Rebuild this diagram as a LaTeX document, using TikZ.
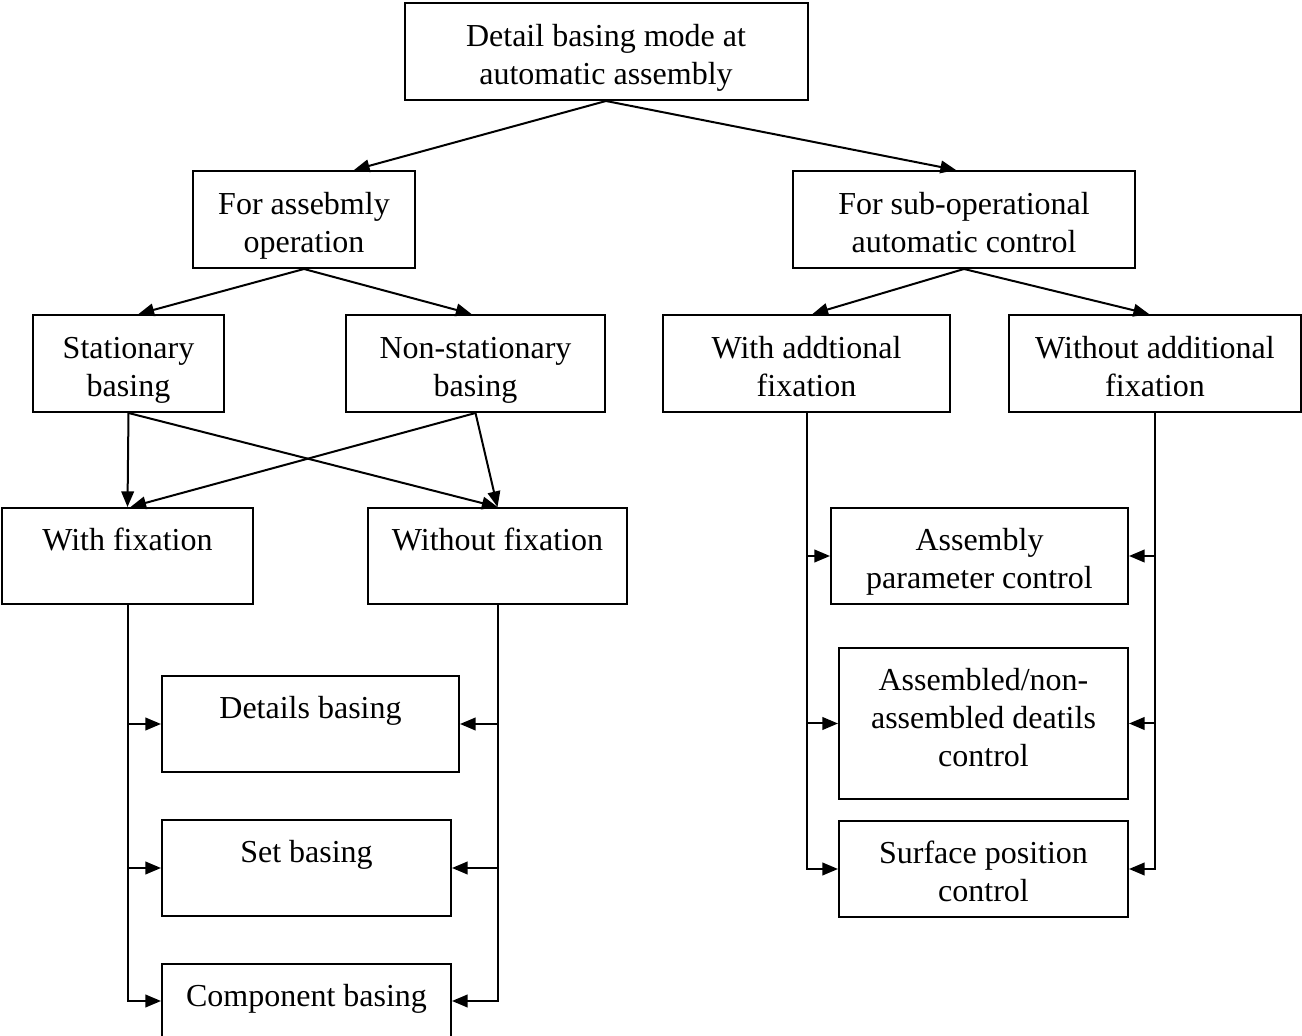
\documentclass[tikz,border=0pt]{standalone}
\usepackage{fontspec}
\setmainfont{Liberation Serif}
\usetikzlibrary{positioning}
\usetikzlibrary{arrows.meta}
% room over the first line and under the last line of a block
\newcommand{\firstht}{\rule{0pt}{19.3pt}}
\newcommand{\lastdp}[1][5.7pt]{\rule[-#1]{0pt}{#1}}
\tikzset {
  % plain rectangular block
  blk/.style = {draw, rectangle, align=center, inner sep=2pt, line width=1pt,
    font=\fontsize{16}{19}\selectfont},
  % arrow from block to block
  link/.style = {-{Triangle[length=7.8pt, width=6.3pt]}, line width=1pt},
}

\begin{document}
\begin{tikzpicture}[x=0.5pt, y=-0.5pt]
        \clip[use as bounding box] (0,0) rectangle (1302,1036);
        \fill[white] (0,0) rectangle (1302,1036);

        \node[blk, minimum width=201.5pt, minimum height=48.5pt] (top) at (606,51.5) {\firstht Detail basing mode at\\automatic assembly\lastdp};
        \node[blk, minimum width=111pt, minimum height=48.5pt] (asm) at (304,219.5) {\firstht For assebmly\\operation\lastdp};
        \node[blk, minimum width=171pt, minimum height=48.5pt] (sub) at (964,219.5) {\firstht For sub-operational\\automatic control\lastdp};

        \node[blk, minimum width=95.5pt, minimum height=48.5pt] (st) at (128.5,363.5) {\firstht Stationary\\basing\lastdp};
        \node[blk, minimum width=129.5pt, minimum height=48.5pt] (ns) at (475.5,363.5) {\firstht Non-stationary\\basing\lastdp};
        \node[blk, minimum width=143.5pt, minimum height=48.5pt] (wa) at (806.5,363.5) {\firstht With addtional\\fixation\lastdp};
        \node[blk, minimum width=146pt, minimum height=48.5pt] (woa) at (1155,363.5) {\firstht Without additional\\fixation\lastdp};

        \node[blk, minimum width=125.5pt, minimum height=48pt] (wf) at (127.5,556) {\firstht With fixation\\\lastdp};
        \node[blk, minimum width=129.5pt, minimum height=48pt] (wof) at (497.5,556) {\firstht Without fixation\\\lastdp};

        \node[blk, minimum width=148.5pt, minimum height=48pt] (db) at (310.5,724) {\firstht Details basing\\\lastdp};
        \node[blk, minimum width=144.5pt, minimum height=48pt] (sb) at (306.5,868) {\firstht Set basing\\\lastdp};
        \node[blk, minimum width=144.5pt, minimum height=37pt] (cb) at (306.5,1001) {\firstht Component basing\lastdp[13.3pt]};

        \node[blk, minimum width=148.5pt, minimum height=48pt] (pc) at (979.5,556) {\firstht Assembly\\parameter control\lastdp};
        \node[blk, minimum width=144.5pt, minimum height=74.5pt] (ac) at (983.5,723.5) {\firstht Assembled/non-\\assembled deatils\\control\lastdp[14pt]};
        \node[blk, minimum width=144.5pt, minimum height=48pt] (sp) at (983.5,869) {\firstht Surface position\\control\lastdp};

        \draw[link] (top.south) -- ([xshift=25pt]asm.north);
        \draw[link] (top.south) -- ([xshift=-4pt]sub.north);
        \draw[link] (asm.south) -- ([xshift=5pt]st.north);
        \draw[link] (asm.south) -- ([xshift=-2pt]ns.north);
        \draw[link] (sub.south) -- ([xshift=3pt]wa.north);
        \draw[link] (sub.south) -- ([xshift=-3pt]woa.north);

        \draw[link] (st.south) -- (wf.north);
        \draw[link] (st.south) -- (wof.north);
        \draw[link] (ns.south) -- ([xshift=1.5pt]wf.north);
        \draw[link] (ns.south) -- (wof.north);

        \draw[link] (wf.south) |- (cb.west);
        \draw[link] (wf.south |- db.west) -- (db.west);
        \draw[link] (wf.south |- sb.west) -- (sb.west);
        \draw[link] (wof.south) |- (cb.east);
        \draw[link] (wof.south |- db.east) -- (db.east);
        \draw[link] (wof.south |- sb.east) -- (sb.east);

        \draw[link] (wa.south) |- (sp.west);
        \draw[link] (wa.south |- pc.west) -- (pc.west);
        \draw[link] (wa.south |- ac.west) -- (ac.west);
        \draw[link] (woa.south) |- (sp.east);
        \draw[link] (woa.south |- pc.east) -- (pc.east);
        \draw[link] (woa.south |- ac.east) -- (ac.east);
      \end{tikzpicture}
\end{document}
